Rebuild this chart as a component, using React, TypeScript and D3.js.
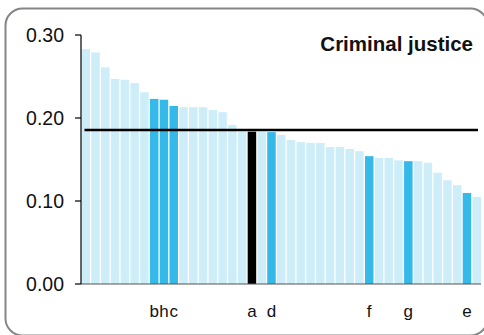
import React from "react";
import * as d3 from "d3";

const values: number[] = [
  0.283, 0.279, 0.261, 0.247, 0.246, 0.242, 0.231, 0.223, 0.222, 0.2145,
  0.213, 0.213, 0.213, 0.2096, 0.207, 0.1916, 0.1835, 0.1835, 0.183, 0.183,
  0.1795, 0.1735, 0.171, 0.17, 0.17, 0.165, 0.165, 0.1627, 0.16, 0.154,
  0.152, 0.152, 0.149, 0.148, 0.148, 0.146, 0.134, 0.125, 0.119, 0.1096,
  0.105,
];
// highlight: "" = normal, "hi" = highlighted, "ref" = reference (black)
const labels: string[] = [
  "", "", "", "", "", "", "", "b", "h", "c",
  "", "", "", "", "", "", "", "a", "", "d",
  "", "", "", "", "", "", "", "", "", "f",
  "", "", "", "g", "", "", "", "", "", "e",
  "",
];
const refLabel = "a";
const average = 0.1855;
const yTicks: number[] = [0, 0.1, 0.2, 0.3];
const title = "Criminal justice";

export default function App() {
  const W = 484;
  const H = 335;
  const left = 81;
  const right = 481;
  const y0 = 284;
  const yTop = 35;
  const x = d3
    .scaleBand<number>()
    .domain(values.map((_, i) => i))
    .range([left + 0.5, right])
    .paddingInner(0.13)
    .paddingOuter(0);
  const y = d3.scaleLinear().domain([0, 0.3]).range([y0, yTop]);
  const font = "'Liberation Sans', Arial, Helvetica, sans-serif";
  const color = (l: string) =>
    l === refLabel ? "#000000" : l ? "#35b9e9" : "#cdeef9";

  return (
    <svg
      width={W}
      height={H}
      style={{ position: "absolute", left: 0, top: 0 }}
      fontFamily={font}
    >
      <rect
        x={5.5}
        y={8.5}
        width={482}
        height={327}
        rx={17}
        ry={17}
        fill="#ffffff"
        stroke="#858585"
        strokeWidth={2}
      />
      {values.map((v, i) => (
        <rect
          key={i}
          x={x(i)!}
          y={y(v)}
          width={x.bandwidth()}
          height={y0 - y(v)}
          fill={color(labels[i])}
        />
      ))}
      <line
        x1={x(0)! + 3}
        x2={right - 3}
        y1={y(average)}
        y2={y(average)}
        stroke="#000"
        strokeWidth={2.6}
      />
      <line x1={left} x2={right} y1={y0} y2={y0} stroke="#555" strokeWidth={1.2} />
      <line x1={left} x2={left} y1={yTop} y2={y0} stroke="#000" strokeWidth={1.2} />
      {yTicks.map((t) => (
        <g key={t}>
          <line x1={left - 6} x2={left} y1={y(t)} y2={y(t)} stroke="#000" strokeWidth={1.2} />
          <text
            x={left - 17}
            y={y(t)}
            dy="0.36em"
            textAnchor="end"
            fontSize={19.5}
            fill="#111"
          >
            {d3.format(".2f")(t)}
          </text>
        </g>
      ))}
      {labels.map((l, i) =>
        l ? (
          <text
            key={"l" + i}
            x={x(i)! + x.bandwidth() / 2}
            y={317}
            textAnchor="middle"
            fontSize={17}
            fill="#111"
          >
            {l}
          </text>
        ) : null
      )}
      <text
        x={473}
        y={51}
        textAnchor="end"
        fontSize={20.5}
        fontWeight="bold"
        fill="#111"
      >
        {title}
      </text>
    </svg>
  );
}
